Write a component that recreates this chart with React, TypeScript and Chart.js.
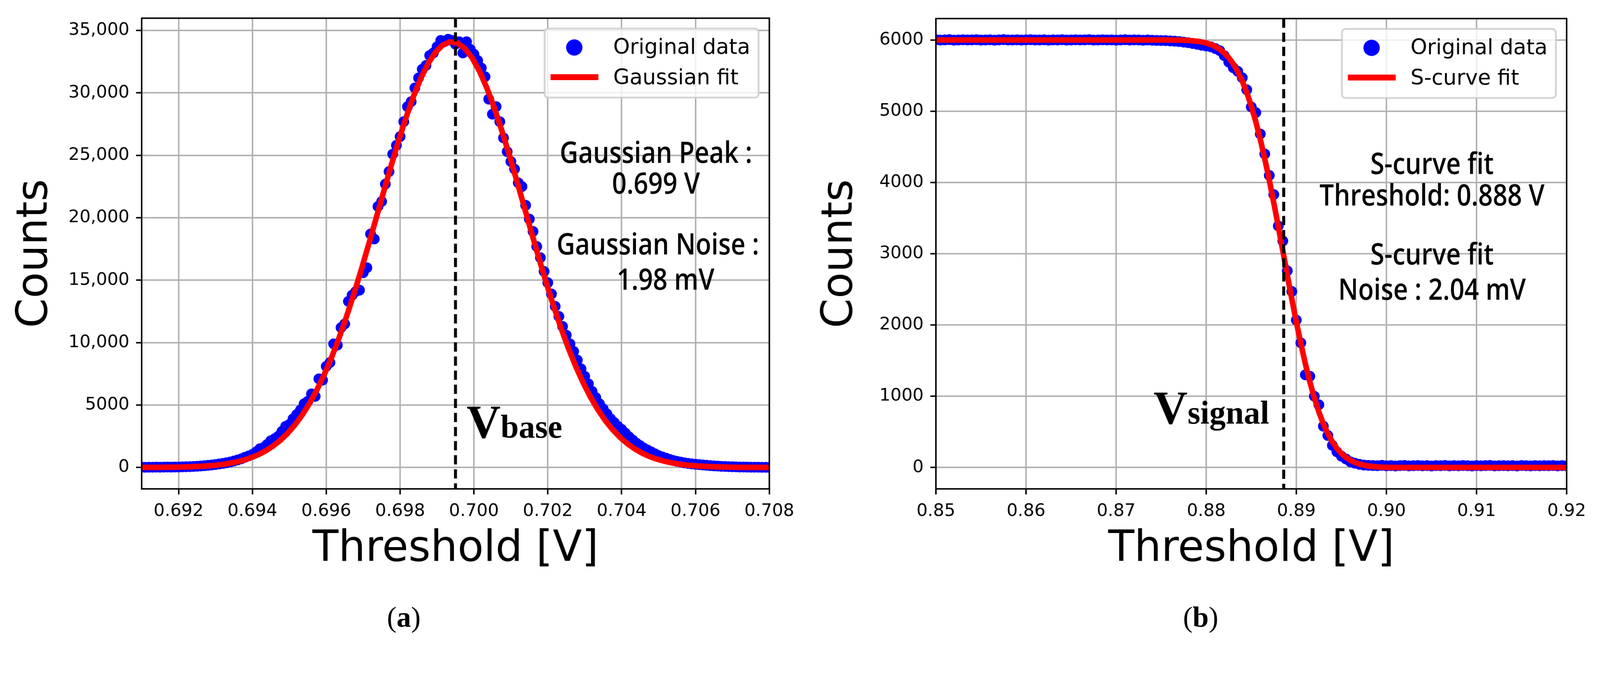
import { useEffect, useRef } from "react";
import { Chart, registerables } from "chart.js";

Chart.register(...registerables);

// ---------- panel (a): baseline scan, Gaussian ----------
const A_SCAN_START = 0.691;
const A_SCAN_STEP = 0.0001;
const A_COUNTS = [
  20, 15, 25, 20, 30, 25, 30, 35, 30, 40, 40,
  55, 60, 70, 80, 95,
  120, 140, 170, 200, 240, 280, 330, 380, 440, 520, 600, 700, 820, 930, 1050,
  1250, 1500, 1600, 1850, 2150, 2300, 2500, 2900, 3300, 3450, 3900, 4250, 4600, 5100, 5300,
  5900, 5700, 7100, 7000, 8100, 8400, 9900, 9800, 11200, 11500,
  13300, 13800, 14100, 14200, 15600, 16000, 18700, 18300, 20900, 21300,
  22700, 23700, 25100, 25800, 26500, 27700, 28900, 29300, 30400, 31200,
  31900, 32200, 33000, 33200, 33700, 34200, 34100, 34300, 34200,
  33900, 34100, 33200, 34100, 33500, 33100, 32600, 32000, 31300, 29500,
  28300, 28900, 27700, 26400, 25300, 24500, 23900, 22800, 22500, 21000,
  19900, 18900, 17700, 16800, 15700, 14800, 13900, 12900, 12100, 11300,
  10600, 9900, 9300, 8600, 7900, 7300, 6700, 6100, 5600, 5100,
  4700, 4300, 3900, 3600, 3300, 3050, 2750, 2450, 2200, 1950,
  1750, 1550, 1400, 1250, 1100, 950, 850, 750, 650, 560,
  490, 430, 370, 330, 290, 260,
  230, 200, 180, 150, 130, 110, 90, 80, 70, 60, 50, 40, 35, 30, 25, 20, 20, 15, 15, 10,
];
const A_FIT_START = 0.69095;
const A_FIT_STEP = 0.0002;
const A_FIT = [
  4, 6, 9, 13, 20, 29, 42, 60, 86, 121,
  169, 234, 320, 434, 581, 772, 1014, 1319, 1698, 2163,
  2728, 3407, 4209, 5149, 6235, 7473, 8865, 10411, 12102, 13924,
  15859, 17879, 19952, 22039, 24096, 26079, 27938, 29627, 31098, 32311,
  33230, 33829, 34089, 34002, 33571, 32809, 31740, 30393, 28807, 27027,
  25100, 23075, 20996, 18911, 16860, 14879, 12998, 11239, 9619, 8150,
  6835, 5673, 4662, 3791, 3053, 2433, 1918, 1498, 1158, 886,
  671, 503, 373, 274, 199, 143, 102, 72, 50, 35,
  24, 16, 11, 7, 5, 3, 2,
];
const A_X_TICKS = [0.692, 0.694, 0.696, 0.698, 0.7, 0.702, 0.704, 0.706, 0.708];
const A_Y_TICKS = [0, 5000, 10000, 15000, 20000, 25000, 30000, 35000];
const A_PEAK_V = 0.6995;
const A_NOTES = [
  { text: "Gaussian Peak :", x: 0.70493, y: 24391 },
  { text: "0.699 V", x: 0.70493, y: 21925 },
  { text: "Gaussian Noise :", x: 0.70498, y: 17052 },
  { text: "1.98 mV", x: 0.70519, y: 14230 },
];

// ---------- panel (b): signal scan, S-curve ----------
const B_SCAN_START = 0.85;
const B_SCAN_STEP = 0.0005;
const B_COUNTS = [
  6003, 5998, 6001, 6004, 5997, 6000, 6002, 5999, 6001, 6003,
  5998, 6000, 6002, 5997, 6001, 6004, 5999, 6000, 6002, 5998,
  6001, 6003, 5999, 6000, 6002, 5997, 6001, 6000, 6003, 5998,
  6000, 6002, 5999, 6001, 6004, 5998, 6000, 6002, 5999, 6001,
  5997, 6000, 6003, 5998, 6001, 6000, 5996, 5999, 5995, 5993,
  5992, 5990, 5986, 5982, 5977, 5970, 5962, 5950, 5938, 5925,
  5915, 5905, 5880, 5850, 5780, 5690, 5610, 5560, 5470, 5300,
  5060, 4980, 4680, 4400, 4100, 3830, 3390, 3180, 2760, 2470,
  2070, 1750, 1300, 1280, 1000, 880, 580, 450, 310, 220,
  160, 120, 80, 60, 45, 35, 30,
  28, 25, 30, 24, 27, 22, 26, 29, 23, 25,
  28, 24, 26, 22, 27, 25, 29, 23, 26, 24,
  28, 25, 22, 27, 24, 26, 29, 23, 25, 27,
  24, 26, 22, 28, 25, 23, 27, 24, 26, 25,
  28, 23, 26, 24,
];
const B_FIT = [
  6000, 6000, 6000, 6000, 6000, 6000, 6000, 6000, 6000, 6000,
  6000, 6000, 6000, 6000, 6000, 6000, 6000, 6000, 6000, 6000,
  6000, 6000, 6000, 6000, 6000, 6000, 6000, 6000, 6000, 6000,
  6000, 6000, 6000, 6000, 6000, 6000, 6000, 6000, 6000, 6000,
  6000, 6000, 6000, 6000, 6000, 6000, 6000, 6000, 6000, 6000,
  6000, 5999, 5999, 5998, 5997, 5995, 5992, 5988, 5981, 5971,
  5957, 5936, 5908, 5869, 5817, 5750, 5664, 5555, 5422, 5262,
  5073, 4854, 4606, 4332, 4033, 3714, 3381, 3041, 2699, 2364,
  2043, 1739, 1457, 1203, 977, 781, 613, 475, 361, 269,
  197, 142, 101, 70, 48, 32, 21, 14, 9, 5,
  3, 2, 1, 1, 0, 0, 0, 0, 0, 0,
  0, 0, 0, 0, 0, 0, 0, 0, 0, 0,
  0, 0, 0, 0, 0, 0, 0, 0, 0, 0,
  0, 0, 0, 0, 0, 0, 0, 0, 0, 0,
  0,
];
const B_X_TICKS = [0.85, 0.86, 0.87, 0.88, 0.89, 0.9, 0.91, 0.92];
const B_Y_TICKS = [0, 1000, 2000, 3000, 4000, 5000, 6000];
const B_THRESHOLD_V = 0.8886;
const B_NOTES = [
  { text: "S-curve fit", x: 0.90506, y: 4121 },
  { text: "Threshold: 0.888 V", x: 0.90506, y: 3678 },
  { text: "S-curve fit", x: 0.90506, y: 2851 },
  { text: "Noise : 2.04 mV", x: 0.90506, y: 2357 },
];

const PAGE_W = 4315;
const PAGE_H = 1753;
const SANS = "'DejaVu Sans', sans-serif";
const NOTE_FONT = "600 80px 'Open Sans', sans-serif";
const SERIF = "'Liberation Serif', 'Times New Roman', serif";

type Note = { text: string; x: number; y: number };
type Panel = {
  width: number;
  counts: number[];
  scanStart: number;
  scanStep: number;
  fit: number[];
  fitStart: number;
  fitStep: number;
  fitLabel: string;
  xMin: number;
  xMax: number;
  yMin: number;
  yMax: number;
  xTicks: number[];
  yTicks: number[];
  xDecimals: number;
  commas: boolean;
  marker: number;
  notes: Note[];
  vSub: string;
  vX: number;
  vY: number;
  padTop: number;
  padRight: number;
  yAxisWidth: number;
  yTitlePad: number;
};

const PANEL_A: Panel = {
  width: 2160,
  counts: A_COUNTS,
  scanStart: A_SCAN_START,
  scanStep: A_SCAN_STEP,
  fit: A_FIT,
  fitStart: A_FIT_START,
  fitStep: A_FIT_STEP,
  fitLabel: "Gaussian fit",
  xMin: 0.691,
  xMax: 0.708,
  yMin: -1715,
  yMax: 35985,
  xTicks: A_X_TICKS,
  yTicks: A_Y_TICKS,
  xDecimals: 3,
  commas: true,
  marker: A_PEAK_V,
  notes: A_NOTES,
  vSub: "base",
  vX: 0.6998,
  vY: 2377,
  padTop: 49,
  padRight: 76,
  yAxisWidth: 382,
  yTitlePad: 27,
};

const PANEL_B: Panel = {
  width: 2155,
  counts: B_COUNTS,
  scanStart: B_SCAN_START,
  scanStep: B_SCAN_STEP,
  fit: B_FIT,
  fitStart: B_SCAN_START,
  fitStep: B_SCAN_STEP,
  fitLabel: "S-curve fit",
  xMin: 0.85,
  xMax: 0.92,
  yMin: -300,
  yMax: 6300,
  xTicks: B_X_TICKS,
  yTicks: B_Y_TICKS,
  xDecimals: 2,
  commas: false,
  marker: B_THRESHOLD_V,
  notes: B_NOTES,
  vSub: "signal",
  vX: 0.87416,
  vY: 614,
  padTop: 50,
  padRight: 90,
  yAxisWidth: 364,
  yTitlePad: 38,
};

function overlay(p: Panel) {
  return {
    id: "overlay",
    afterDraw(chart: any) {
      const { ctx, chartArea: a, scales } = chart;
      const xs = scales.x;
      const ys = scales.y;
      ctx.save();

      // dashed marker line
      const vx = xs.getPixelForValue(p.marker);
      ctx.beginPath();
      ctx.setLineDash([25, 13]);
      ctx.lineWidth = 8;
      ctx.strokeStyle = "#000";
      ctx.moveTo(vx, a.top);
      ctx.lineTo(vx, a.bottom);
      ctx.stroke();
      ctx.setLineDash([]);

      // axes frame
      ctx.lineWidth = 4;
      ctx.strokeRect(a.left, a.top, a.right - a.left, a.bottom - a.top);

      // fit notes
      ctx.fillStyle = "#000";
      ctx.textAlign = "center";
      ctx.textBaseline = "alphabetic";
      ctx.font = NOTE_FONT;
      for (const n of p.notes) {
        ctx.save();
        ctx.translate(xs.getPixelForValue(n.x), ys.getPixelForValue(n.y));
        ctx.scale(0.86, 1);
        ctx.fillText(n.text, 0, 0);
        ctx.restore();
      }

      // V label with smaller suffix
      ctx.textAlign = "left";
      const lx = xs.getPixelForValue(p.vX);
      const ly = ys.getPixelForValue(p.vY);
      ctx.font = `bold 127px ${SERIF}`;
      ctx.fillText("V", lx, ly);
      const vw = ctx.measureText("V").width;
      ctx.font = `bold 88px ${SERIF}`;
      ctx.fillText(p.vSub, lx + vw, ly);

      // legend
      const bx = a.right - 606;
      const by = a.top + 28;
      ctx.beginPath();
      if (ctx.roundRect) ctx.roundRect(bx, by, 577, 186, 10);
      else ctx.rect(bx, by, 577, 186);
      ctx.fillStyle = "rgba(255,255,255,0.8)";
      ctx.fill();
      ctx.lineWidth = 5;
      ctx.strokeStyle = "rgba(204,204,204,0.85)";
      ctx.stroke();

      ctx.beginPath();
      ctx.arc(bx + 80, by + 51, 22, 0, Math.PI * 2);
      ctx.fillStyle = "#0000ff";
      ctx.fill();
      ctx.fillStyle = "#ff0000";
      ctx.fillRect(bx + 16, by + 123, 129, 16);

      ctx.fillStyle = "#000";
      ctx.font = `57px ${SANS}`;
      ctx.fillText("Original data", bx + 185, by + 68);
      ctx.fillText(p.fitLabel, bx + 185, by + 150);

      ctx.restore();
    },
  };
}

function ScanChart({ p, left }: { p: Panel; left: number }) {
  const canvasRef = useRef<HTMLCanvasElement | null>(null);

  useEffect(() => {
    if (!canvasRef.current) {
      return;
    }
    const points = p.counts.map((y, i) => ({ x: p.scanStart + i * p.scanStep, y }));
    const fitLine = p.fit.map((y, i) => ({ x: p.fitStart + i * p.fitStep, y }));
    const tickFont = { family: SANS, size: 47 };
    const titleFont = { family: SANS, size: 115 };
    const grid = {
      color: "#b0b0b0",
      lineWidth: 4,
      tickColor: "#000",
      tickWidth: 4,
      tickLength: 15,
    };

    const chart = new Chart(canvasRef.current, {
      type: "scatter",
      data: {
        datasets: [
          {
            type: "line",
            label: p.fitLabel,
            data: fitLine,
            borderColor: "#ff0000",
            borderWidth: 15,
            pointRadius: 0,
            fill: false,
            tension: 0,
            order: 0,
            clip: 0,
          },
          {
            type: "scatter",
            label: "Original data",
            data: points,
            backgroundColor: "#0000ff",
            borderWidth: 0,
            pointRadius: 14.5,
            order: 1,
            clip: 0,
          },
        ],
      } as any,
      options: {
        animation: false,
        responsive: false,
        devicePixelRatio: 1,
        events: [],
        layout: { padding: { left: 0, top: p.padTop, right: p.padRight, bottom: 0 } },
        plugins: { legend: { display: false }, tooltip: { enabled: false } },
        scales: {
          x: {
            type: "linear",
            min: p.xMin,
            max: p.xMax,
            bounds: "data",
            afterBuildTicks: (s: any) => {
              s.ticks = p.xTicks.map((v) => ({ value: v }));
            },
            afterFit: (s: any) => {
              s.height = 435;
            },
            ticks: {
              autoSkip: false,
              maxRotation: 0,
              padding: 18,
              color: "#000",
              font: tickFont,
              callback: (v: any) => Number(v).toFixed(p.xDecimals),
            },
            grid,
            border: { display: false },
            title: {
              display: true,
              text: "Threshold [V]",
              color: "#000",
              font: titleFont,
              padding: { top: 0, bottom: 202 },
            },
          },
          y: {
            type: "linear",
            min: p.yMin,
            max: p.yMax,
            bounds: "data",
            afterBuildTicks: (s: any) => {
              s.ticks = p.yTicks.map((v) => ({ value: v }));
            },
            afterFit: (s: any) => {
              s.width = p.yAxisWidth;
            },
            ticks: {
              autoSkip: false,
              padding: 18,
              color: "#000",
              font: tickFont,
              callback: (v: any) =>
                p.commas && v >= 10000 ? Number(v).toLocaleString("en-US") : String(v),
            },
            grid,
            border: { display: false },
            title: {
              display: true,
              text: "Counts",
              color: "#000",
              font: titleFont,
              padding: { top: p.yTitlePad, bottom: 0 },
            },
          },
        },
      } as any,
      plugins: [overlay(p)],
    });

    return () => chart.destroy();
  }, [p]);

  return (
    <canvas
      ref={canvasRef}
      width={p.width}
      height={PAGE_H}
      style={{ position: "absolute", left, top: 0, width: p.width, height: PAGE_H }}
    />
  );
}

function Caption({ letter, center }: { letter: string; center: number }) {
  return (
    <div
      style={{
        position: "absolute",
        left: center - 200,
        top: 1625,
        width: 400,
        textAlign: "center",
        fontFamily: SERIF,
        fontSize: 78,
        lineHeight: 1,
        color: "#000",
      }}
    >
      (<b>{letter}</b>)
    </div>
  );
}

export default function App() {
  // fit the 4315x1753 figure into whatever viewport the window gives us
  const scale = Math.min(window.innerWidth / PAGE_W, window.innerHeight / PAGE_H);

  return (
    <div style={{ position: "fixed", inset: 0, overflow: "hidden", background: "#fff" }}>
      <div
        style={{
          position: "absolute",
          left: 0,
          top: 0,
          width: PAGE_W,
          height: PAGE_H,
          transform: `scale(${scale})`,
          transformOrigin: "0 0",
          background: "#fff",
        }}
      >
        <ScanChart p={PANEL_A} left={0} />
        <ScanChart p={PANEL_B} left={2160} />
        <Caption letter="a" center={1089} />
        <Caption letter="b" center={3238} />
      </div>
    </div>
  );
}
